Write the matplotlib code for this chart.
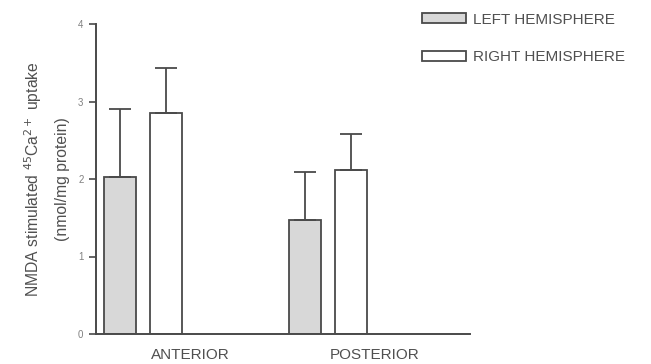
import matplotlib
matplotlib.use("Agg")
import matplotlib.pyplot as plt
from matplotlib.patches import Patch

categories = ["ANTERIOR", "POSTERIOR"]
left_vals = [2.03, 1.47]
left_err = [0.87, 0.62]
right_vals = [2.85, 2.12]
right_err = [0.58, 0.46]
series_names = ["LEFT HEMISPHERE", "RIGHT HEMISPHERE"]
yticks = [0, 1, 2, 3, 4]

plt.rcParams["font.family"] = ["Liberation Sans", "DejaVu Sans"]

edge = "#4a4a4a"
txt = "#505050"

fig = plt.figure(figsize=(6.51, 3.64), dpi=100)
ax = fig.add_axes([96/651, 1-334/364, (470-96)/651, (334-24)/364])

x = list(range(len(categories)))
w = 0.173
off = 0.124
xl = [i - off for i in x]
xr = [i + off for i in x]
ax.bar(xl, left_vals, w, color="#d8d8d8", edgecolor=edge, linewidth=1.3)
ax.bar(xr, right_vals, w, color="white", edgecolor=edge, linewidth=1.3)
ax.errorbar(xl, left_vals, yerr=[[0]*2, left_err], fmt="none", ecolor=edge,
            elinewidth=1.3, capsize=8, capthick=1.3)
ax.errorbar(xr, right_vals, yerr=[[0]*2, right_err], fmt="none", ecolor=edge,
            elinewidth=1.3, capsize=8, capthick=1.3)

ax.set_xlim(-0.254, 1.768)
ax.set_ylim(0, 4)
ax.set_yticks(yticks)
ax.set_yticklabels([str(t) for t in yticks], fontsize=7, color="#808080")
ax.tick_params(axis="y", direction="out", length=5, width=1.2, color=edge, pad=4)
ax.set_xticks([i + 0.254 for i in x])
ax.set_xticklabels(categories, fontsize=11, color=txt)
ax.tick_params(axis="x", length=0, pad=10)
for s in ["top", "right"]:
    ax.spines[s].set_visible(False)
for s in ["left", "bottom"]:
    ax.spines[s].set_color(edge)
    ax.spines[s].set_linewidth(1.4)

ax.set_ylabel("NMDA stimulated $^{45}$Ca$^{2+}$ uptake\n(nmol/mg protein)",
              fontsize=11.3, color=txt, labelpad=6, linespacing=1.9)

handles = [Patch(facecolor="#d8d8d8", edgecolor=edge, linewidth=1.3),
           Patch(facecolor="white", edgecolor=edge, linewidth=1.3)]
fig.legend(handles, series_names, loc="upper left", bbox_to_anchor=(408/651, 1.003),
           frameon=False, fontsize=11, handlelength=2.9, handleheight=0.65,
           labelspacing=1.55, handletextpad=0.45, labelcolor=txt)

fig.savefig("out.png", dpi=100)
